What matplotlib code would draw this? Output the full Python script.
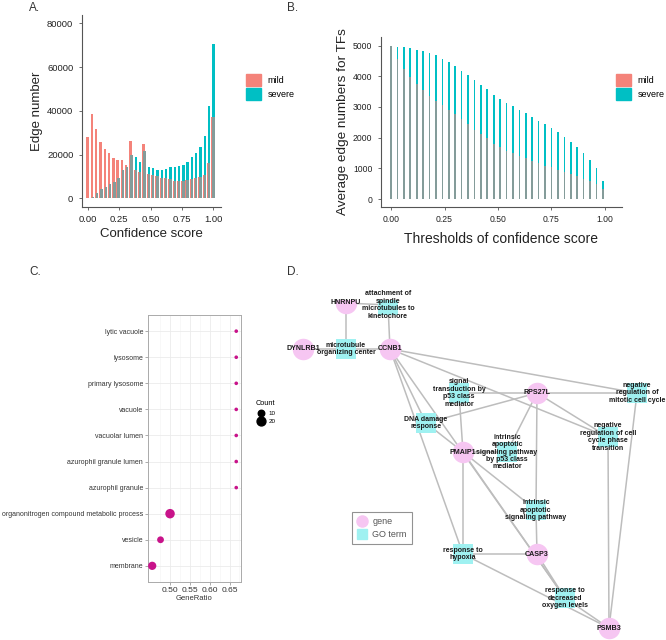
import matplotlib
matplotlib.use("Agg")
import matplotlib.pyplot as plt
from matplotlib.patches import Patch
from matplotlib.lines import Line2D
import numpy as np

plt.rcParams["font.family"] = ["Liberation Sans", "DejaVu Sans"]

# ---- Panel A: confidence score histogram (30 bins, 0..1)
conf_bins = np.linspace(0, 1, 30)
mild_edges = [28000, 38700, 31700, 25700, 22600, 20900, 18400, 17400, 17400, 15000,
              26200, 13000, 12000, 24700, 11000, 10600, 10000, 9300, 9200, 9000,
              7800, 7800, 8000, 8200, 8600, 9200, 9600, 10800, 16000, 37300]
severe_edges = [300, 800, 2600, 4200, 5300, 6400, 7600, 9500, 12800, 14200,
                19600, 18800, 16800, 21400, 14300, 14000, 13100, 13000, 13300, 14300,
                14300, 14700, 15000, 16600, 19000, 20500, 23600, 28600, 42000, 70500]

# ---- Panel B: average edge numbers per threshold
thresholds = np.arange(34) * 0.03
mild_avg = [4980, 4550, 4230, 3970, 3760, 3560, 3360, 3200, 3050, 2900,
            2760, 2620, 2430, 2250, 2130, 2000, 1790, 1680, 1580, 1490,
            1400, 1330, 1250, 1160, 1090, 1030, 960, 880, 820, 740,
            650, 580, 480, 310]
severe_avg = [5000, 4970, 4950, 4920, 4870, 4820, 4750, 4680, 4580, 4460,
              4320, 4180, 4030, 3870, 3730, 3570, 3400, 3260, 3140, 3030,
              2910, 2800, 2680, 2550, 2430, 2300, 2170, 2030, 1870, 1690,
              1500, 1270, 1010, 580]

# ---- Panel C: GO enrichment dot plot
go_terms = ["lytic vacuole", "lysosome", "primary lysosome", "vacuole", "vacuolar lumen",
            "azurophil granule lumen", "azurophil granule",
            "organonitrogen compound metabolic process", "vesicle", "membrane"]
gene_ratio = [0.667, 0.667, 0.667, 0.667, 0.667, 0.667, 0.667, 0.50, 0.476, 0.455]
go_count = [2, 2, 2, 2, 2, 2, 2, 23, 11, 17]

# ---- Panel D: gene / GO term network (layout positions)
genes = ["HNRNPU", "DYNLRB1", "CCNB1", "RPS27L", "PMAIP1", "CASP3", "PSMB3"]
gene_pos = [(346, 303), (303, 349), (390, 349), (537, 393), (463, 452), (537, 554), (609, 628)]
terms = ["attachment of\nspindle\nmicrotubules to\nkinetochore",
         "microtubule\norganizing center",
         "signal\ntransduction by\np53 class\nmediator",
         "negative\nregulation of\nmitotic cell cycle",
         "DNA damage\nresponse",
         "intrinsic\napoptotic\nsignaling pathway\nby p53 class\nmediator",
         "negative\nregulation of cell\ncycle phase\ntransition",
         "intrinsic\napoptotic\nsignaling pathway",
         "response to\nhypoxia",
         "response to\ndecreased\noxygen levels"]
term_pos = [(388, 305), (346, 349), (459, 393), (637, 393), (426, 423), (507, 452),
            (608, 437), (536, 510), (463, 554), (565, 598)]
edges = [(0, "HNRNPU"), (0, "CCNB1"),
         (1, "HNRNPU"), (1, "DYNLRB1"), (1, "CCNB1"),
         (2, "RPS27L"), (2, "PMAIP1"),
         (3, "CCNB1"), (3, "RPS27L"), (3, "PSMB3"),
         (4, "CCNB1"), (4, "RPS27L"), (4, "PMAIP1"),
         (5, "RPS27L"), (5, "PMAIP1"),
         (6, "CCNB1"), (6, "RPS27L"), (6, "PSMB3"),
         (7, "RPS27L"), (7, "PMAIP1"), (7, "CASP3"),
         (8, "CCNB1"), (8, "PMAIP1"), (8, "CASP3"), (8, "PSMB3"),
         (9, "CCNB1"), (9, "PMAIP1"), (9, "CASP3"), (9, "PSMB3")]

MILD = "#F4837A"
SEVERE = "#00BFC4"
OVERLAP = "#849C9A"

fig = plt.figure(figsize=(6.66, 6.40), dpi=100)


def classic_axes(ax, size):
    for s in ["top", "right"]:
        ax.spines[s].set_visible(False)
    for s in ["left", "bottom"]:
        ax.spines[s].set_color("#555555")
        ax.spines[s].set_linewidth(0.8)
    ax.tick_params(colors="#555555", labelcolor="#222222", labelsize=size, length=2.5, width=0.6)


def overlaid_bars(ax, x, mild, severe, width, shift):
    # mild slightly left, severe slightly right, shared part drawn gray
    mild = np.asarray(mild)
    severe = np.asarray(severe)
    ax.bar(x + shift, severe, width=width, color=SEVERE, linewidth=0)
    ax.bar(x - shift, mild, width=width, color=MILD, linewidth=0)
    ax.bar(x + shift, np.minimum(mild, severe), width=width, color=OVERLAP, linewidth=0)


# Panel A
axA = fig.add_axes([81.7 / 666, 1 - 206.7 / 640, 139 / 666, 191.7 / 640])
overlaid_bars(axA, conf_bins, mild_edges, severe_edges, 0.019, 0.004)
axA.set_xlim(-0.0504, 1.0616)
axA.set_ylim(-3840, 83800)
axA.set_xticks([0, 0.25, 0.5, 0.75, 1.0])
axA.set_xticklabels(["0.00", "0.25", "0.50", "0.75", "1.00"])
axA.set_yticks([0, 20000, 40000, 60000, 80000])
classic_axes(axA, 6.8)
axA.set_xlabel("Confidence score", fontsize=9.5, color="#222222", labelpad=3)
axA.set_ylabel("Edge number", fontsize=9.5, color="#222222", labelpad=3)
legA = [Patch(color=MILD, label="mild"), Patch(color=SEVERE, label="severe")]
fig.legend(handles=legA, loc="center left", bbox_to_anchor=(238 / 666, 1 - 87 / 640),
           frameon=False, fontsize=6.5, handlelength=1.6, handleheight=1.7,
           labelspacing=0.12, handletextpad=0.8)

# Panel B
axB = fig.add_axes([380.7 / 666, 1 - 206.7 / 640, 241 / 666, 169.7 / 640])
overlaid_bars(axB, thresholds, mild_avg, severe_avg, 0.0075, 0.0)
axB.set_xlim(-0.0483, 1.0783)
axB.set_ylim(-251, 5281)
axB.set_xticks([0, 0.25, 0.5, 0.75, 1.0])
axB.set_xticklabels(["0.00", "0.25", "0.50", "0.75", "1.00"])
axB.set_yticks([0, 1000, 2000, 3000, 4000, 5000])
classic_axes(axB, 6.2)
axB.set_xlabel("Thresholds of confidence score", fontsize=10, color="#222222", labelpad=6)
axB.set_ylabel("Average edge numbers for TFs", fontsize=9.7, color="#222222", labelpad=3)
fig.legend(handles=[Patch(color=MILD, label="mild"), Patch(color=SEVERE, label="severe")],
           loc="center left", bbox_to_anchor=(608 / 666, 1 - 87 / 640),
           frameon=False, fontsize=6.5, handlelength=1.6, handleheight=1.7,
           labelspacing=0.12, handletextpad=0.8)

# Panel C
axC = fig.add_axes([148 / 666, 1 - 582 / 640, 93 / 666, 267 / 640])
ypos = np.arange(len(go_terms))[::-1] + 1
sizes = [1.9 * c + 3 for c in go_count]
axC.set_axisbelow(True)
axC.scatter(gene_ratio, ypos, s=sizes, color="#C8138A", zorder=3, linewidths=0)
axC.set_xlim(0.4444, 0.679)
axC.set_ylim(0.38, 10.62)
axC.set_yticks(ypos)
axC.set_yticklabels(go_terms)
axC.set_xticks([0.50, 0.55, 0.60, 0.65])
axC.set_xticks([0.475, 0.525, 0.575, 0.625, 0.675], minor=True)
axC.grid(True, which="major", color="#EBEBEB", linewidth=0.6)
axC.grid(True, which="minor", axis="x", color="#F4F4F4", linewidth=0.4)
for s in axC.spines.values():
    s.set_color("#AAAAAA")
    s.set_linewidth(0.7)
axC.tick_params(which="major", labelsize=5.0, labelcolor="#333333", colors="#888888",
                length=2, width=0.5, pad=1.5)
axC.tick_params(which="minor", length=0)
axC.tick_params(axis="x", labelsize=6)
axC.set_xlabel("GeneRatio", fontsize=5.5, color="#333333", labelpad=1)
cnt_handles = [Line2D([], [], ls="", marker="o", color="black", markersize=np.sqrt(1.9 * c + 3), label=str(c))
               for c in [10, 20]]
fig.legend(handles=cnt_handles, title="Count", loc="upper left",
           bbox_to_anchor=(250 / 666, 1 - 396 / 640), frameon=False, fontsize=4.5,
           title_fontsize=5.3, handletextpad=0.3, labelspacing=0.5, borderpad=0.2)

# Panel D
axD = fig.add_axes([260 / 666, 0, 406 / 666, 340 / 640])
axD.set_xlim(260, 666)
axD.set_ylim(640, 300)
axD.axis("off")
gpos = dict(zip(genes, gene_pos))
for ti, g in edges:
    x0, y0 = term_pos[ti]
    x1, y1 = gpos[g]
    axD.plot([x0, x1], [y0, y1], color="#BDBDBD", lw=1.1, zorder=1, solid_capstyle="round")
axD.scatter([p[0] for p in term_pos], [p[1] for p in term_pos], marker="s", s=190,
            color="#9FF1F1", linewidths=0, zorder=2)
axD.scatter([p[0] for p in gene_pos], [p[1] for p in gene_pos], marker="o", s=240,
            color="#F6C6F2", linewidths=0, zorder=2)
for name, (x, y) in zip(terms, term_pos):
    axD.text(x, y, name, ha="center", va="center", fontsize=5.0, color="#1A1A1A",
             linespacing=1.08, zorder=3, fontweight="bold")
for name, (x, y) in zip(genes, gene_pos):
    axD.text(x, y, name, ha="center", va="center", fontsize=5.1, color="#1A1A1A",
             zorder=3, fontweight="bold")
legD = [Line2D([], [], ls="", marker="o", color="#F6C6F2", markersize=8, label="gene"),
        Line2D([], [], ls="", marker="s", color="#9FF1F1", markersize=7, label="GO term")]
ld = axD.legend(handles=legD, loc="upper left", bbox_to_anchor=((347 - 260) / 406, (640 - 507) / 340),
                fontsize=6.5, frameon=True, fancybox=False, edgecolor="#777777",
                handletextpad=0.5, borderpad=0.6, labelspacing=0.45, handlelength=1.2)
for t in ld.get_texts():
    t.set_color("#555555")
ld.get_frame().set_linewidth(0.8)

# panel letters
for lab, (x, y) in zip(["A.", "B.", "C.", "D."], [(29, 8), (287, 8), (29, 272), (287, 272)]):
    fig.text(x / 666, 1 - y / 640, lab, fontsize=8.5, color="#333333", va="center")

fig.savefig("out.png", dpi=100)
